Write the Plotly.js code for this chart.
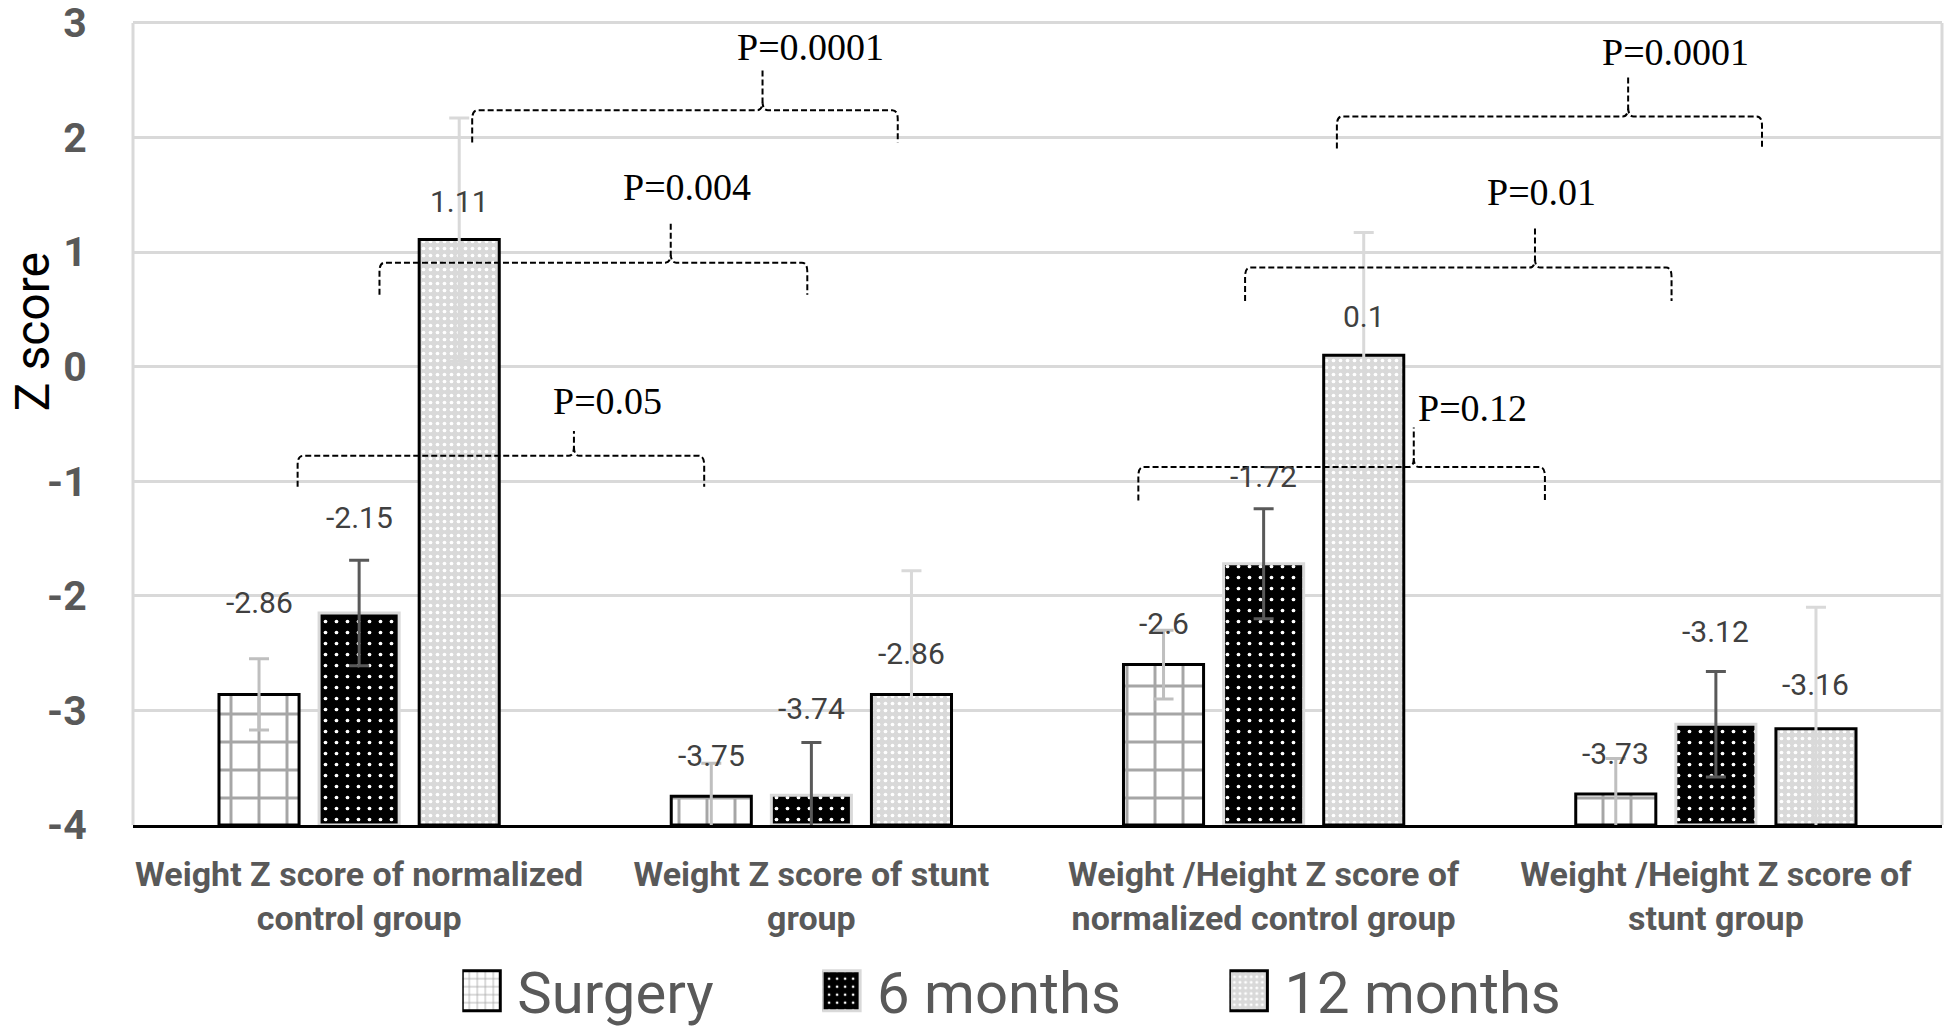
<!DOCTYPE html>
<html><head><meta charset="utf-8">
<script src="https://cdn.plot.ly/plotly-3.0.1.min.js"></script>
<style>html,body{margin:0;padding:0;background:#fff}#chart{width:1944px;height:1028px}</style>
</head><body><div id="chart"></div>
<script>
// ---- data ----
const categories = [
  "Weight Z score of normalized<br>control group",
  "Weight Z score of stunt<br>group",
  "Weight /Height Z score of<br>normalized control group",
  "Weight /Height Z score of<br>stunt group"
];
const seriesNames = ["Surgery", "6 months", "12 months"];
const surgery      = [-2.86, -3.75, -2.6, -3.73];
const sixMonths    = [-2.15, -3.74, -1.72, -3.12];
const twelveMonths = [1.11, -2.86, 0.1, -3.16];
const surgeryErr      = [0.31, 0.29, 0.30, 0.31];
const sixMonthsErr    = [0.46, 0.46, 0.48, 0.46];
const twelveMonthsErr = [1.06, 1.08, 1.07, 1.06];
const yTickVals = [-4, -3, -2, -1, 0, 1, 2, 3];
const pLabels = ["P=0.05", "P=0.004", "P=0.0001", "P=0.12", "P=0.01", "P=0.0001"];

// ---- annotation geometry (not data) ----
const labelLift = [
  [0.80, 0.36, 0.36, 0.35],
  [0.83, 0.76, 0.76, 0.81],
  [0.33, 0.36, 0.34, 0.39]
];
// braces: x1, x2, tip x, horizontal y, end y, tip y, text x, text y
const braces = [
  [-0.136, 0.763, 0.475, -0.778, -1.049, -0.562, 0.549, -0.303],
  [0.045, 0.991, 0.689, 0.908, 0.627, 1.254, 0.725, 1.568],
  [0.250, 1.191, 0.892, 2.238, 1.957, 2.605, 0.999, 2.789],
  [1.723, 2.622, 2.332, -0.876, -1.168, -0.530, 2.461, -0.357],
  [1.959, 2.902, 2.600, 0.865, 0.573, 1.222, 2.614, 1.524],
  [2.162, 3.102, 2.806, 2.184, 1.903, 2.530, 2.910, 2.746]
];
// legend placement (container fraction x of each legend entry)
const legendX = [0.2378, 0.4229, 0.6324];

const SANS = "Roboto, 'Liberation Sans', sans-serif";
const SERIF = "'Liberation Serif', 'Times New Roman', serif";
const BASE = -4;
const xIdx = categories.map((c, i) => i);
const values = [surgery, sixMonths, twelveMonths];
const errs = [surgeryErr, sixMonthsErr, twelveMonthsErr];
const legendIds = ['legend', 'legend2', 'legend3'];
const yMin = yTickVals[0], yMax = yTickVals[yTickVals.length - 1];

const styles = [
  {color: '#ffffff', line: {color: '#000000', width: 3},
   pattern: {shape: '+', fgcolor: '#a6a6a6', bgcolor: '#ffffff', size: 28, solidity: 0.2, fillmode: 'replace'},
   err: '#bfbfbf'},
  {color: '#000000', line: {color: '#d9d9d9', width: 3},
   pattern: {shape: '.', fgcolor: '#ffffff', bgcolor: '#000000', size: 11, solidity: 0.09, fillmode: 'replace'},
   err: '#595959'},
  {color: '#d9d9d9', line: {color: '#000000', width: 3},
   pattern: {shape: '.', fgcolor: '#ffffff', bgcolor: '#d9d9d9', size: 7, solidity: 0.22, fillmode: 'replace'},
   err: '#d9d9d9'}
];

const traces = values.map((vals, j) => ({
  type: 'bar',
  name: seriesNames[j],
  legend: legendIds[j],
  x: xIdx,
  y: vals.map(v => v - BASE),
  base: BASE,
  cliponaxis: false,
  marker: {color: styles[j].color, line: styles[j].line, pattern: styles[j].pattern},
  error_y: {type: 'data', array: errs[j], visible: true, color: styles[j].err, thickness: 3, width: 10},
  hoverinfo: 'skip'
}));

const bargap = 0.336;
const slot = (1 - bargap) / 3;
const annotations = [];
values.forEach((vals, j) => {
  vals.forEach((v, i) => {
    annotations.push({
      x: i + (j - 1) * slot, y: v + labelLift[j][i], xref: 'x', yref: 'y',
      text: String(v), showarrow: false, xanchor: 'center', yanchor: 'middle',
      font: {family: SANS, size: 30, color: '#404040'}
    });
  });
});
// left and right frame lines of the plot area, from -4 up to 3
const shapes = [0, 1].map(px => ({
  type: 'line', xref: 'paper', x0: px, x1: px, yref: 'y', y0: yMin, y1: yMax, layer: 'above',
  line: {color: '#d9d9d9', width: 3}
}));
braces.forEach((b, k) => {
  const [x1, x2, xt, yh, ye, yt, tx, ty] = b;
  const dx = 0.012, dy = 0.08;
  const d = `M${x1},${ye} L${x1},${yh - dy} Q${x1},${yh} ${x1 + dx},${yh} L${xt - dx},${yh} Q${xt},${yh} ${xt},${yh + dy} L${xt},${yt} ` +
            `M${xt},${yh + dy} Q${xt},${yh} ${xt + dx},${yh} L${x2 - dx},${yh} Q${x2},${yh} ${x2},${yh - dy} L${x2},${ye}`;
  shapes.push({type: 'path', xref: 'x', yref: 'y', path: d, line: {color: '#000000', width: 2, dash: '6px,3px'}});
  annotations.push({
    x: tx, y: ty, xref: 'x', yref: 'y', text: pLabels[k], showarrow: false,
    xanchor: 'center', yanchor: 'middle', font: {family: SERIF, size: 38, color: '#000000'}
  });
});
annotations.push({
  x: -0.0555, y: 0.598, xref: 'paper', yref: 'paper', text: 'Z score', textangle: -90,
  showarrow: false, xanchor: 'center', yanchor: 'middle',
  font: {family: SANS, size: 48, color: '#000000'}
});

const legendBase = {orientation: 'h', xref: 'container', yref: 'container', xanchor: 'left',
  y: 0.036, yanchor: 'middle',
  font: {family: SANS, size: 58, color: '#595959'}, itemwidth: 45, borderwidth: 0,
  bgcolor: 'rgba(0,0,0,0)'};

const layout = {
  width: 1944, height: 1028,
  margin: {l: 133, r: 2, t: 0, b: 203, pad: 0, autoexpand: false},
  paper_bgcolor: '#ffffff', plot_bgcolor: '#ffffff',
  barmode: 'group', bargap: bargap, bargroupgap: 0.2,
  showlegend: true,
  legend: Object.assign({}, legendBase, {x: legendX[0]}),
  legend2: Object.assign({}, legendBase, {x: legendX[1]}),
  legend3: Object.assign({}, legendBase, {x: legendX[2]}),
  xaxis: {
    range: [-0.5, 3.5], tickvals: xIdx, ticktext: categories,
    showgrid: false, zeroline: false, showline: true, linecolor: '#000000', linewidth: 3,
    ticks: 'outside', ticklen: 17, tickcolor: 'rgba(0,0,0,0)', tickangle: 0,
    tickfont: {family: SANS, size: 34, color: '#595959', weight: 'bold'}
  },
  yaxis: {
    range: [yMin, 3.2], tickvals: yTickVals, ticktext: yTickVals.map(String),
    showgrid: true, gridcolor: '#d9d9d9', gridwidth: 3, zeroline: false,
    showline: false,
    ticks: 'outside', ticklen: 37, tickcolor: 'rgba(0,0,0,0)', ticklabeloverflow: 'allow',
    tickfont: {family: SANS, size: 41, color: '#595959', weight: 'bold'}
  },
  annotations: annotations,
  shapes: shapes
};

Plotly.newPlot('chart', traces, layout, {displayModeBar: false, staticPlot: true}).then(gd => {
  // enlarge the legend swatches to the size used in the reference
  gd.querySelectorAll('.legendpoints path').forEach(p => {
    p.setAttribute('d', 'M-19,-20H19V20H-19Z');
    p.setAttribute('transform', 'translate(19,0)');
  });
});
</script>
</body></html>
